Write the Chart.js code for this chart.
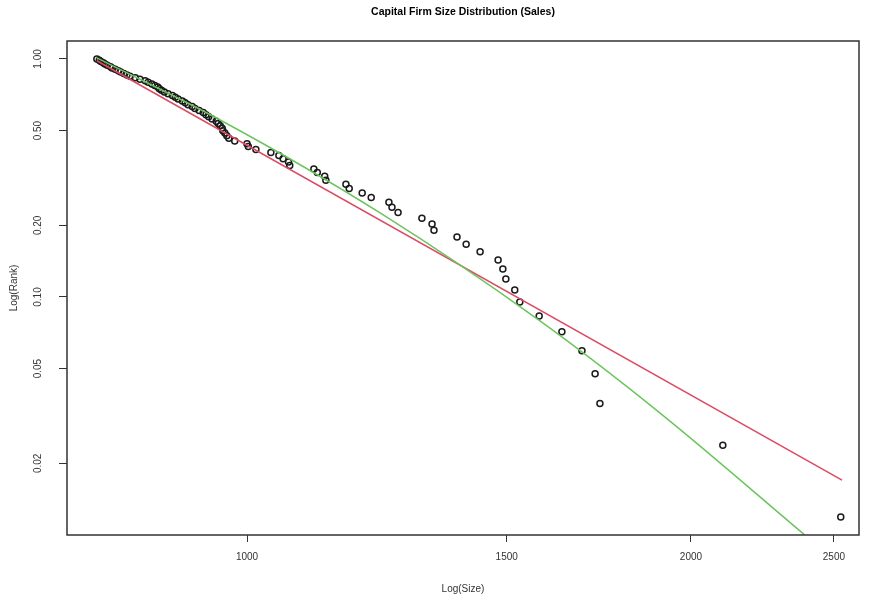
<!DOCTYPE html>
<html>
<head>
<meta charset="utf-8">
<script src="https://cdn.jsdelivr.net/npm/chart.js@4.4.1/dist/chart.umd.min.js"></script>
<style>
  body { margin: 0; background: #fff; }
  canvas { display: block; }
</style>
</head>
<body>
<canvas id="sizeChart" width="871" height="600"></canvas>
<script>
// Firm sales, largest firm first
const firmSizes = [
  2527, 2102, 1735, 1722, 1687, 1635, 1578, 1531, 1519, 1498,
  1491, 1480, 1439, 1408, 1388, 1339, 1335, 1314, 1266, 1254,
  1248, 1214, 1197, 1173, 1167, 1131, 1129, 1116, 1110, 1069,
  1067, 1058, 1051, 1038, 1014, 1002, 1000, 981, 972, 969,
  966, 963, 962, 959, 956, 953, 947, 942, 938, 934,
  928, 922, 918, 912, 908, 904, 898, 894, 890, 884,
  879, 875, 872, 870, 866, 862, 857, 853, 846, 840,
  833, 829, 825, 821, 818, 814, 810, 808, 804, 801,
  799, 796, 794, 791
];
// Rank share for each firm (rank / number of firms)
const rankShares = [
  0.0119, 0.0238, 0.0357, 0.0476, 0.0595, 0.0714, 0.0833, 0.0952, 0.1071, 0.1190,
  0.1310, 0.1429, 0.1548, 0.1667, 0.1786, 0.1905, 0.2024, 0.2143, 0.2262, 0.2381,
  0.2500, 0.2619, 0.2738, 0.2857, 0.2976, 0.3095, 0.3214, 0.3333, 0.3452, 0.3571,
  0.3690, 0.3810, 0.3929, 0.4048, 0.4167, 0.4286, 0.4405, 0.4524, 0.4643, 0.4762,
  0.4881, 0.5000, 0.5119, 0.5238, 0.5357, 0.5476, 0.5595, 0.5714, 0.5833, 0.5952,
  0.6071, 0.6190, 0.6310, 0.6429, 0.6548, 0.6667, 0.6786, 0.6905, 0.7024, 0.7143,
  0.7262, 0.7381, 0.7500, 0.7619, 0.7738, 0.7857, 0.7976, 0.8095, 0.8214, 0.8333,
  0.8452, 0.8571, 0.8690, 0.8810, 0.8929, 0.9048, 0.9167, 0.9286, 0.9405, 0.9524,
  0.9643, 0.9762, 0.9881, 1.0000
];

// Fitted lines
const paretoFitX = [791, 2532];
const paretoFitY = [0.983, 0.0170];
const curveFitX = [791, 959, 1231, 1580, 1905, 2389];
const curveFitY = [1.01, 0.554, 0.2254, 0.0793, 0.0326, 0.0100];

const xTickValues = [1000, 1500, 2000, 2500];
const yTickValues = [0.02, 0.05, 0.1, 0.2, 0.5, 1];

const chartTitle = "Capital Firm Size Distribution (Sales)";
const fontFamily = "'Liberation Sans', Arial, Helvetica, sans-serif";

function toPoints(xs, ys) {
  return xs.map((x, i) => ({ x: x, y: ys[i] }));
}

// Draws the closed box round the plot and the title, R style
const plotBox = {
  id: "plotBox",
  afterDraw(chart) {
    const { ctx, chartArea: a } = chart;
    ctx.save();
    ctx.strokeStyle = "#333";
    ctx.lineWidth = 1.5;
    ctx.strokeRect(a.left, a.top, a.right - a.left, a.bottom - a.top);
    ctx.fillStyle = "#000";
    ctx.font = "bold 10.5px " + fontFamily;
    ctx.textAlign = "center";
    ctx.textBaseline = "middle";
    ctx.fillText(chartTitle, (a.left + a.right) / 2, 12);
    ctx.restore();
  },
};

let ctx = document.getElementById("sizeChart").getContext("2d");

let data = {
  datasets: [
    {
      type: "line",
      data: toPoints(curveFitX, curveFitY),
      borderColor: "#6cc45e",
      borderWidth: 1.5,
      pointRadius: 0,
      cubicInterpolationMode: "monotone",
      fill: false,
      order: 0,
    },
    {
      type: "line",
      data: toPoints(paretoFitX, paretoFitY),
      borderColor: "#dc4a63",
      borderWidth: 1.5,
      pointRadius: 0,
      fill: false,
      order: 1,
    },
    {
      type: "scatter",
      data: toPoints(firmSizes, rankShares),
      pointStyle: "circle",
      pointRadius: 3,
      borderWidth: 1.5,
      borderColor: "#1a1a1a",
      backgroundColor: "rgba(0,0,0,0)",
      order: 2,
    },
  ],
};

let options = {
  responsive: false,
  animation: false,
  layout: { padding: { top: 41, right: 12, left: 0, bottom: 0 } },
  plugins: {
    legend: { display: false },
    tooltip: { enabled: false },
  },
  scales: {
    x: {
      type: "logarithmic",
      position: "bottom",
      min: 755,
      max: 2600,
      afterFit(scale) {
        scale.height = 65;
      },
      afterBuildTicks(scale) {
        scale.ticks = xTickValues.map((v) => ({ value: v }));
      },
      ticks: {
        autoSkip: false,
        maxRotation: 0,
        padding: 9,
        color: "#333",
        font: { family: fontFamily, size: 10 },
        callback: (v) => String(v),
      },
      grid: { drawOnChartArea: false, tickLength: 7, color: "#333" },
      border: { display: false },
      title: {
        display: true,
        text: "Log(Size)",
        color: "#333",
        font: { family: fontFamily, size: 10 },
        padding: { top: 0, bottom: 5 },
      },
    },
    y: {
      type: "logarithmic",
      position: "left",
      min: 0.01,
      max: 1.19,
      afterFit(scale) {
        scale.width = 67;
      },
      afterBuildTicks(scale) {
        scale.ticks = yTickValues.map((v) => ({ value: v }));
      },
      ticks: {
        autoSkip: false,
        minRotation: 90,
        maxRotation: 90,
        crossAlign: "center",
        padding: 11,
        color: "#333",
        font: { family: fontFamily, size: 10 },
        callback: (v) => Number(v).toFixed(2),
      },
      grid: { drawOnChartArea: false, tickLength: 8, color: "#333" },
      border: { display: false },
      title: {
        display: true,
        text: "Log(Rank)",
        color: "#333",
        font: { family: fontFamily, size: 10 },
        padding: { top: 8, bottom: 0 },
      },
    },
  },
};

let chart = new Chart(ctx, {
  type: "scatter",
  data: data,
  options: options,
  plugins: [plotBox],
});
</script>
</body>
</html>
